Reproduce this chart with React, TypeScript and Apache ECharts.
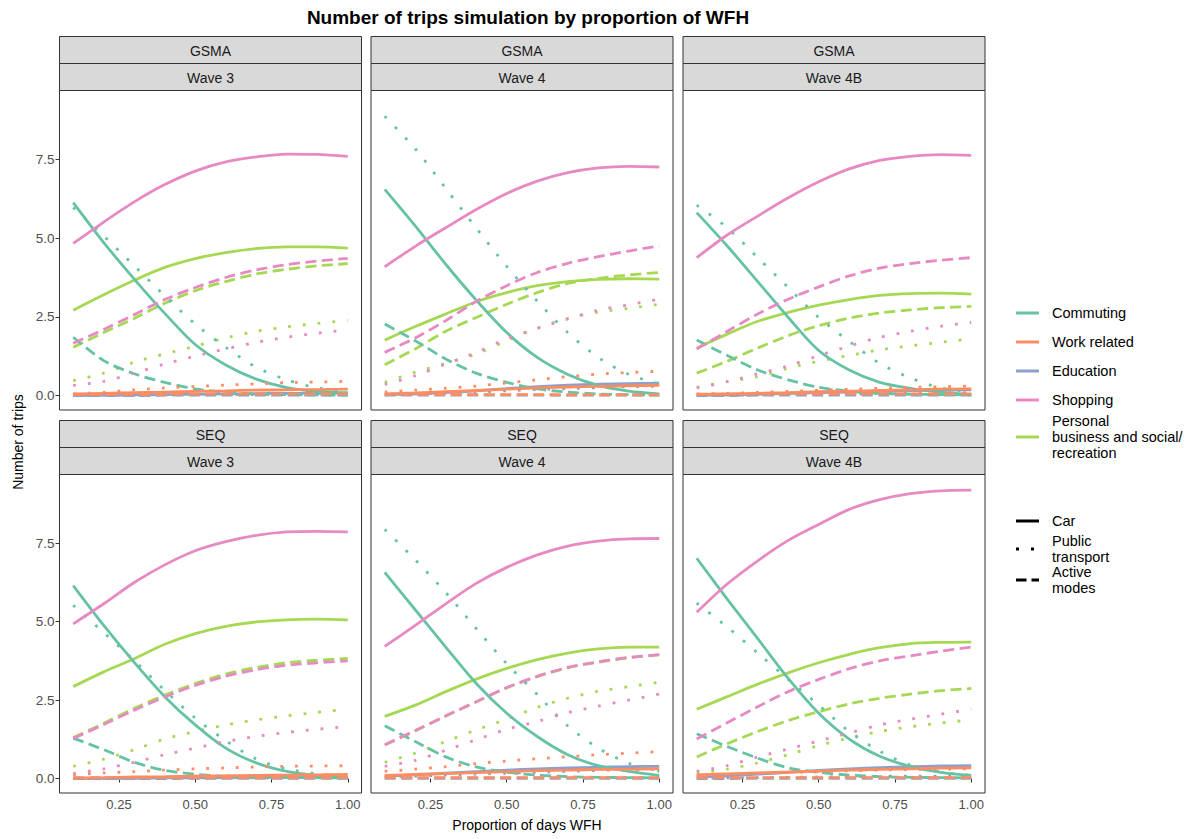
import React, { useEffect, useRef } from "react";
import * as echarts from "echarts";

// Proportion of days worked from home (x values shared by every curve)
const wfhShare = [0.1, 0.2, 0.3, 0.4, 0.5, 0.6, 0.7, 0.8, 0.9, 1.0];

const regions = ["GSMA", "SEQ"];
const waves = ["Wave 3", "Wave 4", "Wave 4B"];

const purposeKeys = ["commuting", "work", "education", "shopping", "personal"];
const purposeLabels = [
  "Commuting",
  "Work related",
  "Education",
  "Shopping",
  "Personal\nbusiness and social/\nrecreation",
];
const purposeColors = ["#66C2A5", "#FC8D62", "#8DA0CB", "#E78AC3", "#A6D854"];

const modeLabels = ["Car", "Public\ntransport", "Active\nmodes"];

const xTicks = [0.25, 0.5, 0.75, 1.0];
const yTicks = [0, 2.5, 5.0, 7.5];

// Trips per purpose, each as [car, public transport, active modes]
const gsmaWave3: Record<string, number[][]> = {
  commuting: [
    [6.13, 4.86, 3.7, 2.61, 1.62, 0.97, 0.52, 0.25, 0.13, 0.08],
    [5.97, 5.07, 4.12, 3.17, 2.27, 1.53, 0.9, 0.5, 0.24, 0.11],
    [1.85, 1.11, 0.69, 0.42, 0.21, 0.11, 0.05, 0.03, 0.02, 0.01],
  ],
  work: [
    [0.05, 0.07, 0.09, 0.11, 0.13, 0.15, 0.17, 0.18, 0.19, 0.2],
    [0.05, 0.1, 0.18, 0.24, 0.29, 0.33, 0.37, 0.41, 0.43, 0.45],
    [0.03, 0.03, 0.04, 0.04, 0.05, 0.05, 0.05, 0.05, 0.05, 0.05],
  ],
  education: [
    [0.0, 0.01, 0.02, 0.03, 0.04, 0.05, 0.06, 0.07, 0.07, 0.08],
    [0.0, 0.01, 0.01, 0.02, 0.02, 0.03, 0.03, 0.03, 0.04, 0.04],
    [0.0, 0.0, 0.0, 0.01, 0.01, 0.01, 0.01, 0.01, 0.01, 0.01],
  ],
  shopping: [
    [4.83, 5.51, 6.15, 6.7, 7.13, 7.42, 7.58, 7.67, 7.66, 7.6],
    [0.32, 0.45, 0.71, 1.0, 1.25, 1.48, 1.69, 1.85, 1.98, 2.08],
    [1.66, 2.1, 2.57, 3.05, 3.43, 3.75, 3.99, 4.16, 4.27, 4.36],
  ],
  personal: [
    [2.71, 3.2, 3.66, 4.07, 4.35, 4.54, 4.67, 4.72, 4.72, 4.68],
    [0.47, 0.71, 1.06, 1.32, 1.57, 1.83, 2.04, 2.18, 2.29, 2.39],
    [1.53, 2.0, 2.45, 2.93, 3.33, 3.62, 3.86, 4.01, 4.12, 4.19],
  ],
};

const gsmaWave4: Record<string, number[][]> = {
  commuting: [
    [6.55, 5.39, 4.17, 3.03, 2.0, 1.21, 0.67, 0.32, 0.14, 0.05],
    [8.87, 7.84, 6.58, 5.32, 4.1, 3.0, 2.0, 1.21, 0.67, 0.37],
    [2.27, 1.74, 1.16, 0.71, 0.42, 0.21, 0.11, 0.05, 0.03, 0.02],
  ],
  work: [
    [0.05, 0.08, 0.12, 0.16, 0.2, 0.24, 0.27, 0.29, 0.31, 0.32],
    [0.11, 0.17, 0.23, 0.3, 0.4, 0.5, 0.6, 0.68, 0.73, 0.77],
    [0.04, 0.04, 0.03, 0.03, 0.03, 0.03, 0.02, 0.02, 0.02, 0.02],
  ],
  education: [
    [0.03, 0.05, 0.09, 0.15, 0.22, 0.28, 0.33, 0.36, 0.38, 0.39],
    [0.02, 0.05, 0.08, 0.11, 0.15, 0.19, 0.22, 0.25, 0.28, 0.3],
    [0.01, 0.01, 0.01, 0.01, 0.01, 0.01, 0.01, 0.01, 0.01, 0.01],
  ],
  shopping: [
    [4.09, 4.74, 5.33, 5.91, 6.42, 6.81, 7.08, 7.23, 7.28, 7.26],
    [0.35, 0.63, 1.0, 1.37, 1.8, 2.13, 2.43, 2.71, 2.88, 3.06],
    [1.37, 1.83, 2.38, 2.99, 3.49, 3.91, 4.2, 4.41, 4.59, 4.75],
  ],
  personal: [
    [1.76, 2.19, 2.59, 2.98, 3.27, 3.49, 3.62, 3.69, 3.71, 3.7],
    [0.42, 0.74, 1.02, 1.32, 1.74, 2.14, 2.45, 2.65, 2.77, 2.9],
    [0.98, 1.48, 2.04, 2.48, 2.9, 3.27, 3.56, 3.72, 3.83, 3.91],
  ],
};

const gsmaWave4B: Record<string, number[][]> = {
  commuting: [
    [5.81, 4.75, 3.62, 2.48, 1.43, 0.81, 0.42, 0.23, 0.11, 0.03],
    [6.05, 5.33, 4.38, 3.43, 2.48, 1.72, 1.02, 0.56, 0.24, 0.11],
    [1.76, 1.27, 0.81, 0.5, 0.26, 0.14, 0.07, 0.04, 0.03, 0.02],
  ],
  work: [
    [0.03, 0.05, 0.07, 0.09, 0.12, 0.14, 0.16, 0.18, 0.2, 0.21],
    [0.05, 0.07, 0.1, 0.13, 0.17, 0.2, 0.23, 0.26, 0.28, 0.3],
    [0.04, 0.04, 0.05, 0.05, 0.05, 0.05, 0.05, 0.05, 0.05, 0.05],
  ],
  education: [
    [0.01, 0.02, 0.04, 0.06, 0.09, 0.11, 0.13, 0.15, 0.17, 0.18],
    [0.0, 0.01, 0.02, 0.03, 0.04, 0.05, 0.06, 0.07, 0.08, 0.08],
    [0.0, 0.0, 0.01, 0.01, 0.01, 0.01, 0.01, 0.01, 0.01, 0.01],
  ],
  shopping: [
    [4.38, 5.1, 5.7, 6.28, 6.79, 7.2, 7.47, 7.6, 7.65, 7.63],
    [0.24, 0.44, 0.69, 0.94, 1.27, 1.57, 1.85, 2.04, 2.2, 2.32],
    [1.48, 2.04, 2.59, 3.06, 3.45, 3.8, 4.05, 4.19, 4.3, 4.38],
  ],
  personal: [
    [1.51, 1.95, 2.36, 2.64, 2.87, 3.05, 3.18, 3.24, 3.25, 3.22],
    [0.26, 0.44, 0.6, 0.87, 1.09, 1.27, 1.45, 1.58, 1.69, 1.8],
    [0.71, 1.09, 1.51, 1.9, 2.22, 2.46, 2.62, 2.72, 2.79, 2.83],
  ],
};

const seqWave3: Record<string, number[][]> = {
  commuting: [
    [6.15, 4.88, 3.7, 2.61, 1.71, 0.97, 0.5, 0.23, 0.1, 0.03],
    [5.52, 4.65, 3.76, 2.81, 1.93, 1.21, 0.62, 0.31, 0.15, 0.06],
    [1.29, 0.92, 0.52, 0.26, 0.14, 0.07, 0.05, 0.04, 0.03, 0.02],
  ],
  work: [
    [0.02, 0.03, 0.05, 0.06, 0.08, 0.09, 0.1, 0.11, 0.12, 0.13],
    [0.12, 0.18, 0.22, 0.27, 0.31, 0.34, 0.37, 0.39, 0.4, 0.41],
    [0.03, 0.03, 0.03, 0.03, 0.03, 0.03, 0.03, 0.03, 0.03, 0.03],
  ],
  education: [
    [0.0, 0.01, 0.01, 0.02, 0.02, 0.03, 0.03, 0.04, 0.04, 0.04],
    [0.0, 0.0, 0.01, 0.01, 0.01, 0.02, 0.02, 0.02, 0.02, 0.02],
    [0.0, 0.0, 0.0, 0.0, 0.01, 0.01, 0.01, 0.01, 0.01, 0.01],
  ],
  shopping: [
    [4.93, 5.57, 6.25, 6.81, 7.26, 7.55, 7.75, 7.86, 7.88, 7.86],
    [0.16, 0.31, 0.52, 0.76, 0.97, 1.18, 1.34, 1.47, 1.57, 1.66],
    [1.28, 1.72, 2.18, 2.6, 2.97, 3.26, 3.47, 3.61, 3.69, 3.75],
  ],
  personal: [
    [2.93, 3.4, 3.82, 4.28, 4.62, 4.85, 4.99, 5.06, 5.08, 5.06],
    [0.39, 0.62, 0.92, 1.26, 1.5, 1.71, 1.87, 2.0, 2.11, 2.21],
    [1.31, 1.76, 2.24, 2.66, 3.03, 3.33, 3.54, 3.69, 3.77, 3.83],
  ],
};

const seqWave4: Record<string, number[][]> = {
  commuting: [
    [6.57, 5.38, 4.19, 3.03, 2.08, 1.34, 0.76, 0.41, 0.23, 0.1],
    [7.94, 6.97, 5.93, 4.78, 3.66, 2.68, 1.68, 0.97, 0.49, 0.23],
    [1.68, 1.18, 0.69, 0.37, 0.2, 0.11, 0.06, 0.04, 0.03, 0.02],
  ],
  work: [
    [0.1, 0.13, 0.16, 0.19, 0.22, 0.25, 0.27, 0.29, 0.3, 0.31],
    [0.23, 0.3, 0.38, 0.48, 0.56, 0.63, 0.7, 0.76, 0.81, 0.86],
    [0.03, 0.03, 0.03, 0.03, 0.03, 0.03, 0.03, 0.03, 0.03, 0.03],
  ],
  education: [
    [0.08, 0.12, 0.17, 0.22, 0.27, 0.31, 0.34, 0.36, 0.38, 0.39],
    [0.05, 0.08, 0.11, 0.14, 0.17, 0.2, 0.23, 0.26, 0.28, 0.3],
    [0.01, 0.01, 0.01, 0.01, 0.01, 0.01, 0.01, 0.01, 0.01, 0.01],
  ],
  shopping: [
    [4.21, 4.88, 5.57, 6.22, 6.73, 7.13, 7.41, 7.57, 7.64, 7.65],
    [0.39, 0.58, 0.9, 1.24, 1.57, 1.82, 2.1, 2.31, 2.5, 2.69],
    [1.08, 1.53, 2.0, 2.45, 2.9, 3.26, 3.54, 3.72, 3.86, 3.95],
  ],
  personal: [
    [1.98, 2.34, 2.77, 3.17, 3.51, 3.79, 4.0, 4.13, 4.19, 4.19],
    [0.52, 0.81, 1.18, 1.55, 1.89, 2.27, 2.56, 2.78, 2.93, 3.07],
    [1.07, 1.52, 1.99, 2.44, 2.89, 3.25, 3.53, 3.71, 3.85, 3.94],
  ],
};

const seqWave4B: Record<string, number[][]> = {
  commuting: [
    [7.02, 5.72, 4.46, 3.19, 2.08, 1.26, 0.71, 0.39, 0.2, 0.1],
    [5.59, 4.83, 4.0, 3.16, 2.34, 1.5, 0.87, 0.43, 0.2, 0.1],
    [1.43, 1.02, 0.65, 0.34, 0.2, 0.11, 0.06, 0.04, 0.03, 0.02],
  ],
  work: [
    [0.12, 0.15, 0.18, 0.21, 0.24, 0.27, 0.29, 0.31, 0.33, 0.34],
    [0.1, 0.13, 0.16, 0.19, 0.22, 0.25, 0.27, 0.29, 0.3, 0.31],
    [0.03, 0.03, 0.03, 0.03, 0.03, 0.03, 0.03, 0.03, 0.03, 0.03],
  ],
  education: [
    [0.05, 0.09, 0.14, 0.2, 0.26, 0.31, 0.35, 0.38, 0.4, 0.41],
    [0.01, 0.02, 0.03, 0.04, 0.05, 0.06, 0.07, 0.08, 0.08, 0.09],
    [0.0, 0.0, 0.01, 0.01, 0.01, 0.01, 0.01, 0.01, 0.01, 0.01],
  ],
  shopping: [
    [5.3, 6.2, 6.94, 7.59, 8.1, 8.58, 8.89, 9.08, 9.17, 9.19],
    [0.23, 0.41, 0.69, 0.94, 1.2, 1.45, 1.71, 1.89, 2.05, 2.21],
    [1.26, 1.78, 2.29, 2.77, 3.16, 3.5, 3.75, 3.91, 4.06, 4.19],
  ],
  personal: [
    [2.21, 2.61, 3.01, 3.37, 3.69, 3.96, 4.17, 4.3, 4.34, 4.35],
    [0.18, 0.3, 0.5, 0.76, 1.05, 1.3, 1.5, 1.65, 1.77, 1.87],
    [0.69, 1.11, 1.5, 1.85, 2.13, 2.38, 2.56, 2.69, 2.8, 2.87],
  ],
};

const panelData = [gsmaWave3, gsmaWave4, gsmaWave4B, seqWave3, seqWave4, seqWave4B];

// Layout of the facet grid
const FONT = "'Liberation Sans', Arial, sans-serif";
const colLeft = [59.5, 371, 683];
const panelWidth = 302;
const rowTop = [90.5, 474.5];
const panelHeight = [319.5, 318.5];
const stripHeight = 27;
const LINE_W = 2.8;
const dashFor = [
  "solid" as any,
  [2.8, 12] as any,
  [11, 5.5] as any,
];
// drawing order of purposes inside a panel (later = on top)
const drawOrder = [2, 4, 0, 3, 1];

function centeredText(text: string, x: number, y: number, font: string, fill: string, extra: any = {}) {
  return {
    type: "text",
    x,
    y,
    ...extra,
    style: {
      text,
      fill,
      font,
      align: "center",
      verticalAlign: "middle",
      textAlign: "center",
      textVerticalAlign: "middle",
    },
  };
}

function buildOption() {
  const grids: any[] = [];
  const xAxes: any[] = [];
  const yAxes: any[] = [];
  const series: any[] = [];
  const graphics: any[] = [];

  for (let r = 0; r < 2; r++) {
    for (let c = 0; c < 3; c++) {
      const i = r * 3 + c;
      const left = colLeft[c];
      const top = rowTop[r];
      grids.push({
        left,
        top,
        width: panelWidth,
        height: panelHeight[r],
        show: true,
        backgroundColor: "#FFFFFF",
        borderColor: "#333333",
        borderWidth: 1,
        containLabel: false,
      });
      xAxes.push({
        gridIndex: i,
        type: "value",
        min: 0.055,
        max: 1.045,
        axisLine: { show: false },
        splitLine: { show: false },
        axisTick: {
          show: r === 1,
          customValues: xTicks,
          length: 4,
          lineStyle: { color: "#333333", width: 1 },
        },
        axisLabel: {
          show: r === 1,
          customValues: xTicks,
          formatter: (v: number) => v.toFixed(2),
          color: "#4D4D4D",
          fontSize: 13,
          fontFamily: FONT,
          margin: 5,
        },
      });
      yAxes.push({
        gridIndex: i,
        type: "value",
        min: -0.46,
        max: 9.69,
        axisLine: { show: false },
        splitLine: { show: false },
        axisTick: {
          show: c === 0,
          customValues: yTicks,
          length: 4,
          lineStyle: { color: "#333333", width: 1 },
        },
        axisLabel: {
          show: c === 0,
          customValues: yTicks,
          formatter: (v: number) => v.toFixed(1),
          color: "#4D4D4D",
          fontSize: 13.5,
          fontFamily: FONT,
          margin: 5,
        },
      });

      // facet strips: region on top, wave below
      const stripLabels = [regions[r], waves[c]];
      stripLabels.forEach((label, k) => {
        const y0 = top - stripHeight * (2 - k);
        graphics.push({
          type: "rect",
          shape: { x: left, y: y0, width: panelWidth, height: stripHeight },
          style: { fill: "#D9D9D9", stroke: "#333333", lineWidth: 1 },
          z: 10,
        });
        graphics.push({
          ...centeredText(label, left + panelWidth / 2, y0 + stripHeight / 2 + 0.5, `14px ${FONT}`, "#1A1A1A"),
          z: 11,
        });
      });

      const data = panelData[i];
      drawOrder.forEach((p) => {
        const key = purposeKeys[p];
        [2, 1, 0].forEach((m) => {
          const vals = data[key][m];
          series.push({
            type: "line",
            name: `${purposeLabels[p]} ${m}`,
            xAxisIndex: i,
            yAxisIndex: i,
            data: wfhShare.map((x, k) => [x, vals[k]]),
            symbol: "none",
            smooth: 0.3,
            silent: true,
            lineStyle: { color: purposeColors[p], width: LINE_W, type: dashFor[m] },
          });
        });
      });
    }
  }

  // titles
  graphics.push(
    centeredText("Number of trips simulation by proportion of WFH", 528, 17, `bold 19px ${FONT}`, "#000000")
  );
  graphics.push(centeredText("Proportion of days WFH", 527, 825, `14px ${FONT}`, "#000000"));
  graphics.push(
    centeredText("Number of trips", 18, 442, `14px ${FONT}`, "#000000", { rotation: Math.PI / 2 })
  );

  // colour legend
  const purposeY = [313, 342, 371, 400, 437];
  purposeLabels.forEach((label, p) => {
    graphics.push({
      type: "line",
      shape: { x1: 1016, y1: purposeY[p], x2: 1039, y2: purposeY[p] },
      style: { stroke: purposeColors[p], lineWidth: 3 },
    });
    graphics.push({
      type: "text",
      x: 1052,
      y: purposeY[p],
      style: {
        text: label,
        fill: "#000000",
        font: `14.5px ${FONT}`,
        lineHeight: 16,
        align: "left",
        verticalAlign: "middle",
        textAlign: "left",
        textVerticalAlign: "middle",
      },
    });
  });

  // mode legend
  const modeY = [521, 549, 580];
  modeLabels.forEach((label, m) => {
    graphics.push({
      type: "line",
      shape: { x1: 1016, y1: modeY[m], x2: 1039, y2: modeY[m] },
      style: {
        stroke: "#000000",
        lineWidth: 3,
        lineDash: m === 0 ? null : m === 1 ? [3, 12] : [10.5, 5],
      },
    });
    graphics.push({
      type: "text",
      x: 1052,
      y: modeY[m],
      style: {
        text: label,
        fill: "#000000",
        font: `14.5px ${FONT}`,
        lineHeight: 16,
        align: "left",
        verticalAlign: "middle",
        textAlign: "left",
        textVerticalAlign: "middle",
      },
    });
  });

  return {
    animation: false,
    backgroundColor: "#FFFFFF",
    grid: grids,
    xAxis: xAxes,
    yAxis: yAxes,
    series,
    graphic: { elements: graphics },
  };
}

export default function App() {
  const ref = useRef<HTMLDivElement>(null);

  useEffect(() => {
    if (!ref.current) return;
    const chart = echarts.init(ref.current, undefined, { renderer: "svg" });
    chart.setOption(buildOption());
    return () => chart.dispose();
  }, []);

  return (
    <div
      ref={ref}
      style={{ position: "absolute", left: 0, top: 0, width: 1198, height: 839 }}
    />
  );
}
